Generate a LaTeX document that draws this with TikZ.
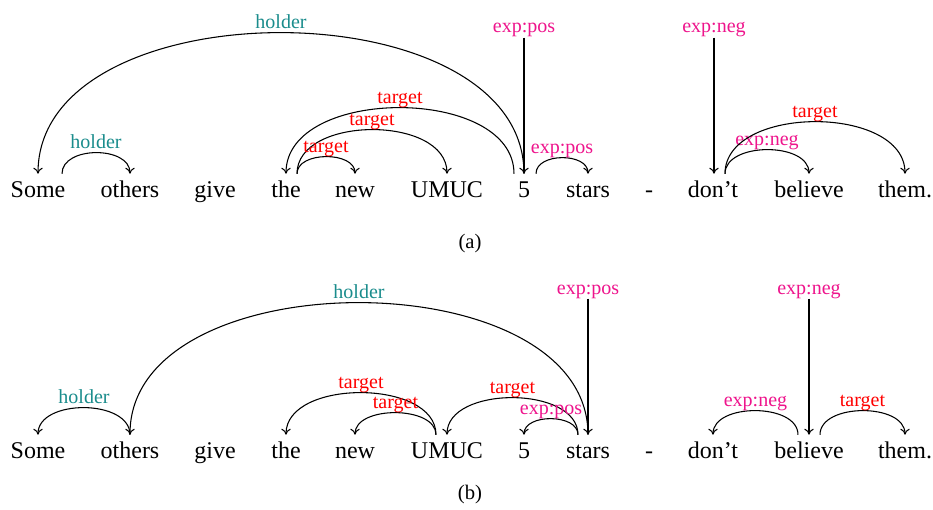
\documentclass[tikz,border=0pt]{standalone}
\usepackage{fontspec}
\setmainfont{Liberation Serif}
\usetikzlibrary{arrows.meta}
\definecolor{holdc}{RGB}{26,140,140}
\definecolor{expc}{RGB}{238,20,140}
\definecolor{tgtc}{RGB}{255,0,0}
\tikzset{
  word/.style={anchor=base, font=\fontsize{18}{20}\selectfont, text height=12.75pt, text depth=0pt, inner xsep=0pt, inner ysep=4.5pt},
  dep/.style={draw=black, line width=0.8pt, -{To[length=4.5pt,width=7pt]}},
  lab/.style={font=\fontsize{15}{17}\selectfont, inner sep=0pt, anchor=base},
  arclab/.style={lab, yshift=3.4pt},
  captext/.style={anchor=base, font=\fontsize{15.5}{17}\selectfont, inner sep=0pt}
}
\newcommand\darc[6]{\draw[dep] (#1) .. controls +(0,-#3) and +(0,-#3) .. (#2) node[arclab,text=#5,pos=0.5] (#6) {#4};}
\begin{document}
\begin{tikzpicture}[x=0.75pt,y=-0.75pt]
\useasboundingbox (0,0) rectangle (933,510);
% row (a)
\node[word] (a1) at (38,197) {Some};
\node[word] (a2) at (130,197) {others};
\node[word] (a3) at (215,197) {give};
\node[word] (a4) at (286,197) {the};
\node[word] (a5) at (355,197) {new};
\node[word] (a6) at (447,197) {UMUC};
\node[word] (a7) at (524,197) {5};
\node[word] (a8) at (588,197) {stars};
\node[word] (a9) at (649,197) {-};
\node[word] (a10) at (713,197) {don’t};
\node[word] (a11) at (809,197) {believe};
\node[word] (a12) at (905,197) {them.};
\darc{a7.north}{a1.north}{188}{holder}{holdc}{la1}
\darc{[xshift=18pt]a1.north}{a2.north}{28}{holder}{holdc}{la2}
\darc{[xshift=-7.5pt]a7.north}{a4.north}{88}{target}{tgtc}{la3}
\darc{[xshift=8.25pt]a4.north}{a6.north}{58.7}{target}{tgtc}{la4}
\darc{[xshift=8.25pt]a4.north}{a5.north}{22.7}{target}{tgtc}{la5}
\darc{[xshift=9pt]a7.north}{a8.north}{21.3}{exp:pos}{expc}{la6}
\darc{[xshift=9pt]a10.north}{a11.north}{32}{exp:neg}{expc}{la7}
\darc{[xshift=9pt]a10.north}{a12.north}{69.3}{target}{tgtc}{la8}
\node[lab,text=expc] (va1) at (524,33) {exp:pos};
\node[lab,text=expc] (va2) at (714,33) {exp:neg};
\draw[dep] (va1.south) -- (a7.north);
\draw[dep] (va2.south) -- (a10.north -| va2.south);
\node[captext] (capa) at (470,248) {(a)};
% row (b)
\node[word] (b1) at (38,458) {Some};
\node[word] (b2) at (130,458) {others};
\node[word] (b3) at (215,458) {give};
\node[word] (b4) at (286,458) {the};
\node[word] (b5) at (355,458) {new};
\node[word] (b6) at (447,458) {UMUC};
\node[word] (b7) at (524,458) {5};
\node[word] (b8) at (588,458) {stars};
\node[word] (b9) at (649,458) {-};
\node[word] (b10) at (713,458) {don’t};
\node[word] (b11) at (809,458) {believe};
\node[word] (b12) at (905,458) {them.};
\darc{b2.north}{b1.north}{36}{holder}{holdc}{lb1}
\darc{b8.north}{b2.north}{176}{holder}{holdc}{lb2}
\darc{[xshift=-8.25pt]b6.north}{b4.north}{56}{target}{tgtc}{lb3}
\darc{[xshift=-8.25pt]b6.north}{b5.north}{29.3}{target}{tgtc}{lb4}
\darc{[xshift=-7.5pt]b8.north}{b6.north}{49.3}{target}{tgtc}{lb5}
\darc{[xshift=-7.5pt]b8.north}{b7.north}{21.3}{exp:pos}{expc}{lb6}
\darc{[xshift=-8.25pt]b11.north}{b10.north}{32}{exp:neg}{expc}{lb7}
\darc{[xshift=8.25pt]b11.north}{b12.north}{32}{target}{tgtc}{lb8}
\node[lab,text=expc] (vb1) at (588,294) {exp:pos};
\node[lab,text=expc] (vb2) at (809,294) {exp:neg};
\draw[dep] (vb1.south) -- (b8.north);
\draw[dep] (vb2.south) -- (b11.north);
\node[captext] (capb) at (470,499) {(b)};
\end{tikzpicture}
\end{document}
